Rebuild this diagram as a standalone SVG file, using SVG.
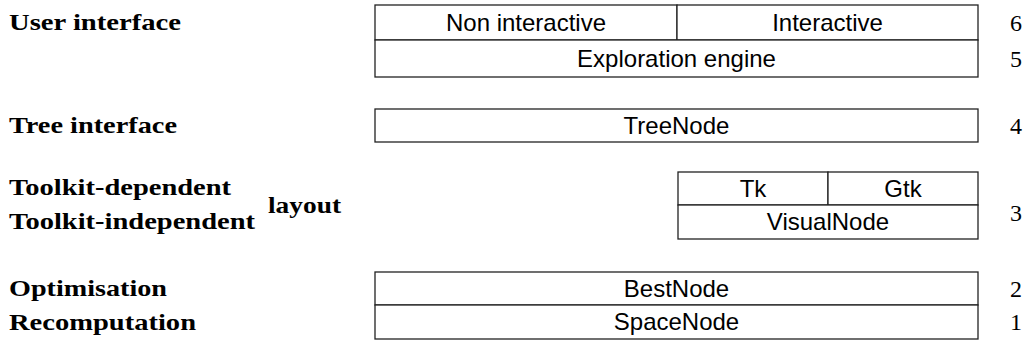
<svg xmlns="http://www.w3.org/2000/svg" width="1029" height="343" viewBox="0 0 1029 343">
<style>
.lbl{font-family:"Liberation Serif","Times New Roman",serif;font-weight:bold;font-size:24px;fill:#000}
.num{font-family:"Liberation Serif","Times New Roman",serif;font-size:24px;fill:#000}
.box{fill:#fff;stroke:#222;stroke-width:1.3}
.txt{font-family:"Liberation Sans",Arial,sans-serif;font-size:24px;fill:#000;text-anchor:middle}
</style>
<g id="labels">
<text class="lbl" x="9" y="30" textLength="172" lengthAdjust="spacingAndGlyphs">User interface</text>
<text class="lbl" x="9" y="133" textLength="168" lengthAdjust="spacingAndGlyphs">Tree interface</text>
<text class="lbl" x="9" y="195" textLength="222" lengthAdjust="spacingAndGlyphs">Toolkit-dependent</text>
<text class="lbl" x="9" y="229" textLength="246" lengthAdjust="spacingAndGlyphs">Toolkit-independent</text>
<text class="lbl" x="268" y="213" textLength="73" lengthAdjust="spacingAndGlyphs">layout</text>
<text class="lbl" x="9" y="296" textLength="158" lengthAdjust="spacingAndGlyphs">Optimisation</text>
<text class="lbl" x="9" y="330" textLength="187" lengthAdjust="spacingAndGlyphs">Recomputation</text>
</g>
<g id="levels">
<text class="num" x="1010" y="31">6</text>
<text class="num" x="1010" y="67">5</text>
<text class="num" x="1010" y="134">4</text>
<text class="num" x="1010" y="221">3</text>
<text class="num" x="1010" y="297">2</text>
<text class="num" x="1010" y="330">1</text>
</g>
<g id="non-interactive"><rect class="box" x="375" y="5" width="302" height="35"/><text class="txt" x="526" y="31">Non interactive</text></g>
<g id="interactive"><rect class="box" x="677" y="5" width="301" height="35"/><text class="txt" x="827.5" y="31">Interactive</text></g>
<g id="exploration-engine"><rect class="box" x="375" y="40" width="603" height="37"/><text class="txt" x="676.5" y="67">Exploration engine</text></g>
<g id="treenode"><rect class="box" x="375" y="109" width="603" height="33"/><text class="txt" x="676.5" y="134">TreeNode</text></g>
<g id="tk"><rect class="box" x="678" y="172" width="150" height="33"/><text class="txt" x="753" y="197">Tk</text></g>
<g id="gtk"><rect class="box" x="828" y="172" width="150" height="33"/><text class="txt" x="903" y="197">Gtk</text></g>
<g id="visualnode"><rect class="box" x="678" y="205" width="300" height="34"/><text class="txt" x="828" y="230">VisualNode</text></g>
<g id="bestnode"><rect class="box" x="375" y="272" width="603" height="33"/><text class="txt" x="676.5" y="297">BestNode</text></g>
<g id="spacenode"><rect class="box" x="375" y="305" width="603" height="34"/><text class="txt" x="676.5" y="330">SpaceNode</text></g>
<g id="connectors"></g>
</svg>
